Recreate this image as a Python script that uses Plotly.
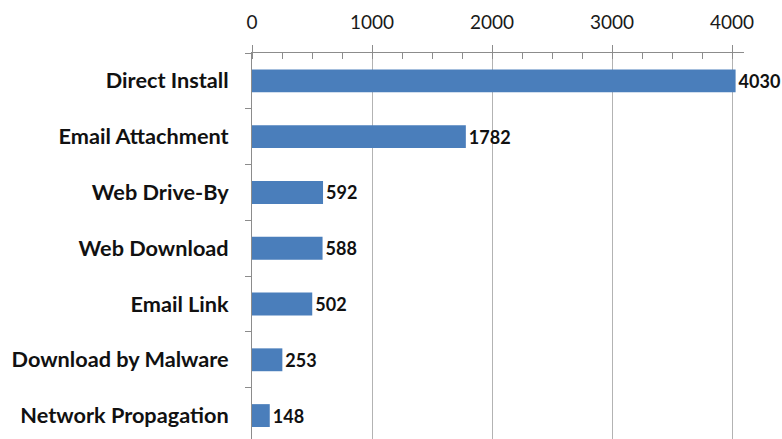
import plotly.graph_objects as go

categories = [
    "Direct Install",
    "Email Attachment",
    "Web Drive-By",
    "Web Download",
    "Email Link",
    "Download by Malware",
    "Network Propagation",
]
counts = [4030, 1782, 592, 588, 502, 253, 148]
x_ticks = [0, 1000, 2000, 3000, 4000]

BAR_BLUE = "#4A7EBB"
GRID = "#B3B3B3"
AXIS = "#8C8C8C"

fig = go.Figure(
    go.Bar(
        x=counts,
        y=categories,
        orientation="h",
        marker=dict(color=BAR_BLUE, line=dict(width=0)),
        text=[str(v) for v in counts],
        texttemplate="<b>%{text}</b>",
        textposition="outside",
        textfont=dict(family="Lato", size=18, color="#111111"),
        cliponaxis=False,
        width=0.41,
    )
)

fig.update_layout(
    width=782,
    height=439,
    margin=dict(l=252, r=38, t=53, b=0),
    paper_bgcolor="white",
    plot_bgcolor="white",
    showlegend=False,
    xaxis=dict(
        side="top",
        range=[0, 4100],
        tickvals=x_ticks,
        ticktext=[str(v) for v in x_ticks],
        tickfont=dict(family="Lato", size=19, color="#1A1A1A"),
        ticks="outside",
        ticklen=7,
        tickcolor=AXIS,
        ticklabelstandoff=8,
        showline=True,
        linecolor=AXIS,
        linewidth=1,
        showgrid=True,
        gridcolor=GRID,
        gridwidth=1,
        zeroline=False,
        minor=dict(dtick=250, ticks="inside", ticklen=6, tickcolor=AXIS, showgrid=False),
    ),
    yaxis=dict(
        type="category",
        categoryorder="array",
        categoryarray=categories,
        tickvals=categories,
        ticktext=[f"<b>{c}</b>" for c in categories],
        range=[6.42, -0.5],
        tickfont=dict(family="Lato", size=21.7, color="#111111"),
        tickson="boundaries",
        ticks="outside",
        ticklen=6,
        tickcolor=AXIS,
        ticklabelstandoff=18,
        showline=True,
        linecolor=AXIS,
        linewidth=1,
        showgrid=False,
        zeroline=False,
    ),
)

fig.write_html("out.html")
